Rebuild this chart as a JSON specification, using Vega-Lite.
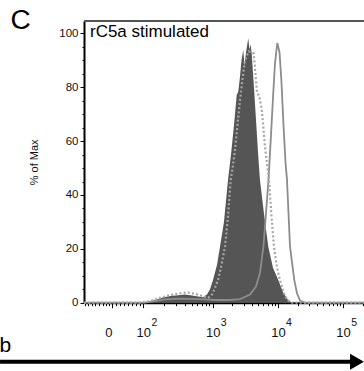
{
  "$schema": "https://vega.github.io/schema/vega-lite/v6.json",
  "width": 280,
  "height": 281.7,
  "autosize": {"type": "none"},
  "padding": {"left": 84, "top": 21, "right": 0, "bottom": 68},
  "background": "white",
  "config": {"font": "Liberation Sans", "view": {"stroke": null}},
  "datasets": {
    "stimulated": [
      {"pos": 1.026, "pct": 0}, {"pos": 1.885, "pct": 0}, {"pos": 2.008, "pct": 0.3}, {"pos": 2.115, "pct": 1.0},
      {"pos": 2.222, "pct": 1.8}, {"pos": 2.345, "pct": 2.5}, {"pos": 2.468, "pct": 2.8}, {"pos": 2.575, "pct": 3.0},
      {"pos": 2.683, "pct": 2.7}, {"pos": 2.775, "pct": 2.3}, {"pos": 2.851, "pct": 2.0}, {"pos": 2.913, "pct": 3.0},
      {"pos": 2.959, "pct": 5.0}, {"pos": 3.005, "pct": 8.4}, {"pos": 3.066, "pct": 14}, {"pos": 3.112, "pct": 20.8},
      {"pos": 3.173, "pct": 30}, {"pos": 3.235, "pct": 45.6}, {"pos": 3.281, "pct": 55}, {"pos": 3.327, "pct": 66},
      {"pos": 3.368, "pct": 77}, {"pos": 3.393, "pct": 78.4}, {"pos": 3.419, "pct": 84}, {"pos": 3.442, "pct": 90},
      {"pos": 3.469, "pct": 93.9}, {"pos": 3.488, "pct": 88}, {"pos": 3.511, "pct": 93}, {"pos": 3.546, "pct": 98.2},
      {"pos": 3.564, "pct": 94}, {"pos": 3.58, "pct": 96}, {"pos": 3.598, "pct": 92.6}, {"pos": 3.633, "pct": 80},
      {"pos": 3.664, "pct": 68}, {"pos": 3.695, "pct": 56}, {"pos": 3.725, "pct": 45.6}, {"pos": 3.787, "pct": 33},
      {"pos": 3.853, "pct": 20.8}, {"pos": 3.925, "pct": 13}, {"pos": 4.006, "pct": 8.4}, {"pos": 4.078, "pct": 4},
      {"pos": 4.155, "pct": 1}, {"pos": 4.216, "pct": 0}, {"pos": 5.321, "pct": 0}
    ],
    "dotted": [
      {"pos": 1.026, "pct": 0}, {"pos": 1.885, "pct": 0}, {"pos": 2.038, "pct": 0.6}, {"pos": 2.192, "pct": 1.8},
      {"pos": 2.345, "pct": 2.8}, {"pos": 2.498, "pct": 3.5}, {"pos": 2.621, "pct": 3.8}, {"pos": 2.744, "pct": 3.2},
      {"pos": 2.851, "pct": 2.4}, {"pos": 2.928, "pct": 1.8}, {"pos": 2.989, "pct": 3}, {"pos": 3.035, "pct": 5.5},
      {"pos": 3.081, "pct": 8.4}, {"pos": 3.127, "pct": 13}, {"pos": 3.189, "pct": 20.8}, {"pos": 3.235, "pct": 32},
      {"pos": 3.276, "pct": 45.6}, {"pos": 3.311, "pct": 51}, {"pos": 3.342, "pct": 56.6}, {"pos": 3.38, "pct": 66},
      {"pos": 3.419, "pct": 75}, {"pos": 3.457, "pct": 83}, {"pos": 3.495, "pct": 90}, {"pos": 3.552, "pct": 93.3},
      {"pos": 3.587, "pct": 93}, {"pos": 3.629, "pct": 92.6}, {"pos": 3.656, "pct": 85}, {"pos": 3.679, "pct": 78},
      {"pos": 3.718, "pct": 76.5}, {"pos": 3.756, "pct": 71}, {"pos": 3.802, "pct": 58}, {"pos": 3.863, "pct": 45.6},
      {"pos": 3.902, "pct": 32}, {"pos": 3.94, "pct": 20.8}, {"pos": 3.986, "pct": 13}, {"pos": 4.032, "pct": 8.4},
      {"pos": 4.094, "pct": 3.5}, {"pos": 4.144, "pct": 1}, {"pos": 4.216, "pct": 0}, {"pos": 5.321, "pct": 0}
    ],
    "solid": [
      {"pos": 1.026, "pct": 0}, {"pos": 1.95, "pct": 0}, {"pos": 2.038, "pct": 0.3}, {"pos": 2.115, "pct": 0.6},
      {"pos": 2.268, "pct": 1.2}, {"pos": 2.498, "pct": 1.5}, {"pos": 2.805, "pct": 1.3}, {"pos": 3.035, "pct": 1.0},
      {"pos": 3.265, "pct": 1.0}, {"pos": 3.419, "pct": 1.3}, {"pos": 3.572, "pct": 3}, {"pos": 3.664, "pct": 6},
      {"pos": 3.725, "pct": 11}, {"pos": 3.779, "pct": 21}, {"pos": 3.817, "pct": 33}, {"pos": 3.856, "pct": 45.6},
      {"pos": 3.894, "pct": 62}, {"pos": 3.925, "pct": 76}, {"pos": 3.956, "pct": 89}, {"pos": 3.991, "pct": 96.4},
      {"pos": 4.025, "pct": 93}, {"pos": 4.055, "pct": 82}, {"pos": 4.086, "pct": 66}, {"pos": 4.117, "pct": 52},
      {"pos": 4.14, "pct": 45.6}, {"pos": 4.186, "pct": 20.8}, {"pos": 4.252, "pct": 8.4}, {"pos": 4.293, "pct": 3.5},
      {"pos": 4.339, "pct": 0.8}, {"pos": 4.416, "pct": 0}, {"pos": 5.321, "pct": 0}
    ]
  },
  "resolve": {"axis": {"x": "independent", "y": "independent"}},
  "layer": [
    {
      "data": {"name": "stimulated"},
      "mark": {"type": "area", "color": "#555555", "interpolate": "linear"},
      "encoding": {
        "x": {
          "field": "pos", "type": "quantitative",
          "scale": {"domain": [1.026, 5.321], "nice": false, "zero": false},
          "axis": {
            "orient": "bottom",
            "values": [1.041, 1.095, 1.149, 1.202, 1.256, 1.31, 1.363, 1.409, 1.46, 1.517, 1.578, 1.64, 1.701, 1.762, 1.824, 1.885, 1.936, 2.256, 2.444, 2.577, 2.68, 2.764, 2.835, 2.897, 2.951, 3, 3.301, 3.477, 3.602, 3.699, 3.778, 3.845, 3.903, 3.954, 4, 4.301, 4.477, 4.602, 4.699, 4.778, 4.845, 4.903, 4.954, 5, 5.301],
            "labelExpr": "datum.value == 1.46 ? '0' : (indexof([1.936, 3, 4, 5], datum.value) >= 0 ? '10' : '')",
            "tickSize": {"condition": {"test": "indexof([1.46, 1.936, 3, 4, 5], datum.value) >= 0", "value": 5}, "value": 3},
            "tickColor": "#000000", "tickWidth": 1,
            "domainColor": "#000000", "domainWidth": 2,
            "grid": false,
            "labelFontSize": 13, "labelColor": "#111111", "labelPadding": 29, "labelBaseline": "alphabetic",
            "labelOffset": {"condition": {"test": "datum.value == 1.46", "value": -4}, "value": 0},
            "labelOverlap": false, "labelFlush": false, "labelBound": false,
            "title": "b", "titleFontSize": 21, "titleFontWeight": "normal", "titleColor": "#000000",
            "titleX": -85, "titleY": 49, "titleAlign": "left", "titleBaseline": "alphabetic", "titleAnchor": null
          }
        },
        "y": {
          "field": "pct", "type": "quantitative",
          "scale": {"domain": [0, 104.6], "nice": false, "zero": true},
          "axis": {
            "values": [0, 5, 10, 15, 20, 25, 30, 35, 40, 45, 50, 55, 60, 65, 70, 75, 80, 85, 90, 95, 100],
            "labelExpr": "datum.value % 20 == 0 ? datum.label : ''",
            "tickSize": {"condition": {"test": "datum.value % 20 == 0", "value": 4}, "value": 2},
            "tickColor": "#000000", "tickWidth": 1,
            "domainColor": "#000000", "domainWidth": 2,
            "grid": false,
            "labelFontSize": 11.5, "labelColor": "#111111", "labelPadding": 2,
            "labelOverlap": false, "labelFlush": false, "labelBound": false,
            "title": "% of Max", "titleFontSize": 11, "titleFontWeight": "normal", "titleColor": "#111111", "titlePadding": 19
          }
        }
      }
    },
    {
      "data": {"name": "solid"},
      "mark": {"type": "line", "color": "#8c8c8c", "strokeWidth": 1.8, "interpolate": "linear"},
      "encoding": {
        "x": {"field": "pos", "type": "quantitative", "axis": null},
        "y": {"field": "pct", "type": "quantitative", "axis": null}
      }
    },
    {
      "data": {"name": "dotted"},
      "mark": {"type": "line", "color": "#a6a6a6", "strokeWidth": 2.2, "strokeDash": [2, 2.2], "strokeCap": "butt", "interpolate": "linear"},
      "encoding": {
        "x": {
          "field": "pos", "type": "quantitative",
          "axis": {
            "orient": "bottom",
            "values": [1.936, 3, 4, 5],
            "labelExpr": "datum.value == 1.936 ? '2' : (datum.value == 3 ? '3' : (datum.value == 4 ? '4' : '5'))",
            "ticks": false, "domain": false, "grid": false, "title": null,
            "labelFontSize": 10.5, "labelColor": "#111111", "labelOffset": 10.5, "labelPadding": 23, "labelBaseline": "alphabetic",
            "labelOverlap": false, "labelFlush": false, "labelBound": false
          }
        },
        "y": {"field": "pct", "type": "quantitative", "axis": null}
      }
    },
    {
      "data": {"values": [{}]},
      "mark": {"type": "rule", "color": "#555555", "strokeWidth": 2},
      "encoding": {
        "x": {"datum": 1.026, "type": "quantitative", "axis": null},
        "x2": {"datum": 5.321},
        "y": {"datum": 104.6, "type": "quantitative", "axis": null}
      }
    },
    {
      "data": {"values": [{}]},
      "mark": {"type": "text", "text": "rC5a stimulated", "align": "left", "baseline": "alphabetic", "fontSize": 17, "font": "Liberation Sans", "color": "#000000"},
      "encoding": {
        "x": {"datum": 1.118, "type": "quantitative", "axis": null},
        "y": {"datum": 98.8, "type": "quantitative", "axis": null}
      }
    },
    {
      "data": {"values": [{}]},
      "mark": {"type": "text", "text": "C", "align": "left", "baseline": "alphabetic", "fontSize": 28, "font": "Liberation Sans", "color": "#000000", "clip": false},
      "encoding": {
        "x": {"datum": -0.101, "type": "quantitative", "axis": null},
        "y": {"datum": 101.8, "type": "quantitative", "axis": null}
      }
    },
    {
      "data": {"values": [{}]},
      "mark": {"type": "rule", "color": "#000000", "strokeWidth": 4, "clip": false},
      "encoding": {
        "x": {"datum": -0.262, "type": "quantitative", "axis": null},
        "x2": {"datum": 5.2},
        "y": {"datum": -21.9, "type": "quantitative", "axis": null}
      }
    },
    {
      "data": {"values": [{}]},
      "mark": {"type": "point", "shape": "triangle-right", "filled": true, "color": "#000000", "opacity": 1, "size": 256, "clip": false},
      "encoding": {
        "x": {"datum": 5.214, "type": "quantitative", "axis": null},
        "y": {"datum": -21.9, "type": "quantitative", "axis": null}
      }
    }
  ]
}
